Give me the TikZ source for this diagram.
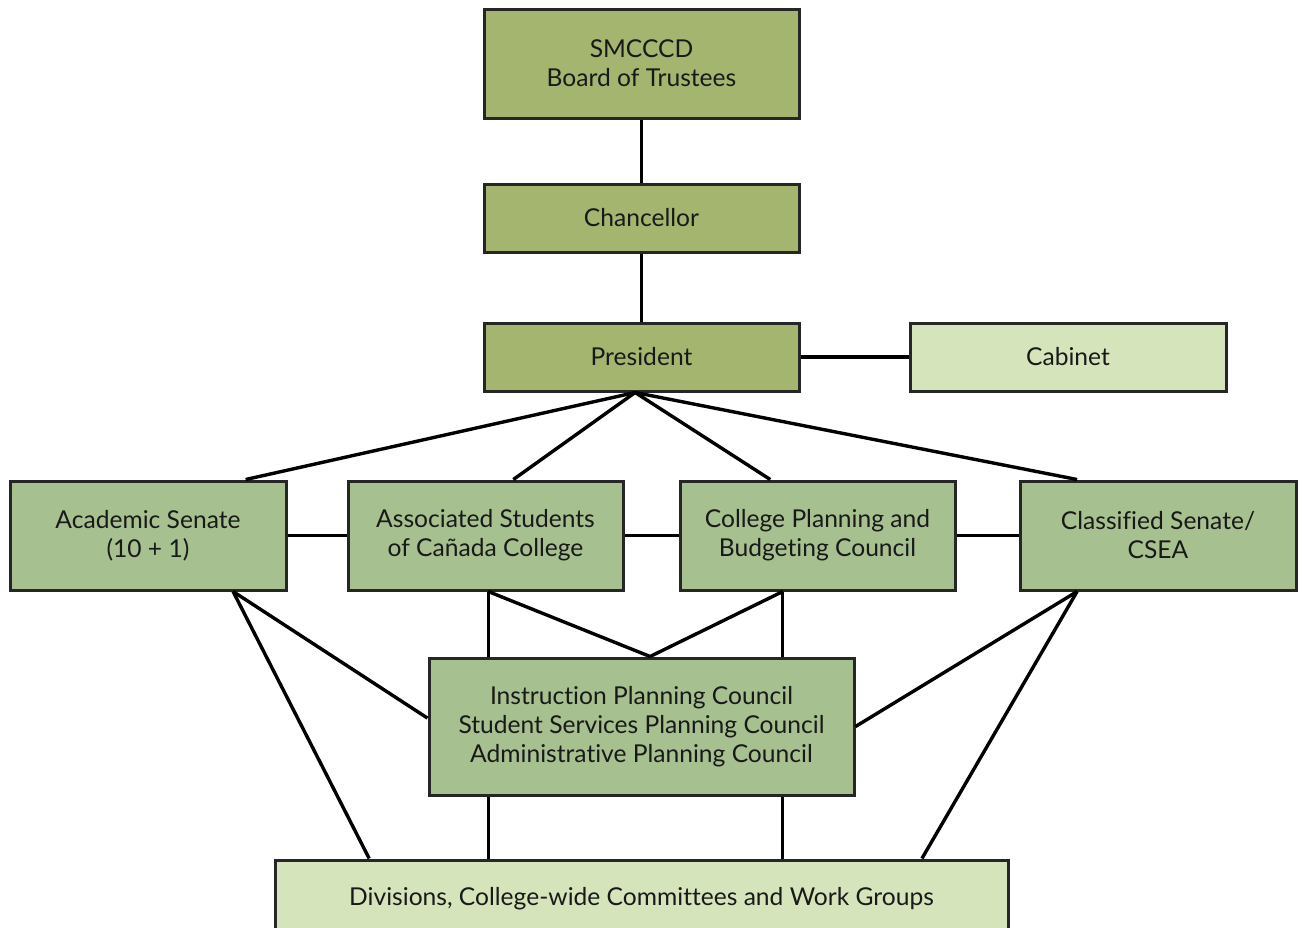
\documentclass[tikz,border=0pt]{standalone}
\usepackage{fontspec}
\setmainfont[Ligatures=NoCommon]{Lato}
\usetikzlibrary{calc}
\definecolor{dkolive}{RGB}{163,181,110}
\definecolor{midgreen}{RGB}{166,192,143}
\definecolor{ltgreen}{RGB}{214,228,188}
\tikzset{
  box/.style={draw=black!85, line width=1.5pt, align=center, inner sep=0pt, font=\fontsize{12.3}{14.5}\selectfont, text=black!90},
  topbox/.style={box, fill=dkolive},
  rowbox/.style={box, fill=midgreen},
  lightbox/.style={box, fill=ltgreen},
  conn/.style={line width=1.7pt, black}
}
\begin{document}
\begin{tikzpicture}[x=0.5pt,y=-0.5pt]
\useasboundingbox (0,0) rectangle (1305,927);
\clip (0,0) rectangle (1305,927);
% nodes
\node[topbox, minimum width=157.5pt, minimum height=54.5pt] (board) at (641.5,63.5) {SMCCCD\\Board of Trustees};
\node[topbox, minimum width=157.5pt, minimum height=34pt] (chan) at (641.5,218) {Chancellor};
\node[topbox, minimum width=157.5pt, minimum height=34pt] (pres) at (641.5,357) {President};
\node[lightbox, minimum width=158pt, minimum height=34pt] (cab) at (1068,357) {Cabinet};
\node[rowbox, minimum width=138pt, minimum height=54.5pt] (acad) at (148,535.5) {Academic Senate\\(10 + 1)};
\node[rowbox, minimum width=137.5pt, minimum height=54.5pt] (as) at (485.5,535.5) {Associated Students\\of Cañada College};
\node[rowbox, minimum width=137.5pt, minimum height=54.5pt] (cpbc) at (817.5,535.5) {College Planning and\\Budgeting Council};
\node[rowbox, minimum width=138pt, minimum height=54.5pt] (csen) at (1158,535.5) {Classified Senate/\\CSEA};
\node[rowbox, minimum width=212.5pt, minimum height=68.5pt] (mid) at (641.5,726.5) {Instruction Planning Council\\Student Services Planning Council\\Administrative Planning Council};
\node[lightbox, minimum width=366.5pt, minimum height=40pt, text height=8pt] (bot) at (641.5,900) {Divisions, College-wide Committees and Work Groups};
% coordinates on borders
\coordinate (presb) at ($(pres.south west)!0.48!(pres.south east)$);
\coordinate (acadt) at ($(acad.north west)!0.85!(acad.north east)$);
\coordinate (ast) at ($(as.north west)!0.6!(as.north east)$);
\coordinate (cpbct) at ($(cpbc.north west)!0.33!(cpbc.north east)$);
\coordinate (csent) at ($(csen.north west)!0.21!(csen.north east)$);
\coordinate (acadb) at ($(acad.south west)!0.805!(acad.south east)$);
\coordinate (asb) at ($(as.south west)!0.51!(as.south east)$);
\coordinate (cpbcb) at ($(cpbc.south west)!0.375!(cpbc.south east)$);
\coordinate (csenb) at ($(csen.south west)!0.21!(csen.south east)$);
\coordinate (midt) at ($(mid.north west)!0.52!(mid.north east)$);
\coordinate (midl) at ($(mid.north west)!0.44!(mid.south west)$);
\coordinate (midr) at ($(mid.north east)!0.5!(mid.south east)$);
\coordinate (botl) at ($(bot.north west)!0.13!(bot.north east)$);
\coordinate (botr) at ($(bot.north west)!0.881!(bot.north east)$);
% connectors
\draw[conn] (board.south) -- (chan.north);
\draw[conn] (chan.south) -- (pres.north);
\draw[conn] (pres.east) -- (cab.west);
\draw[conn] (presb) -- (acadt);
\draw[conn] (presb) -- (ast);
\draw[conn] (presb) -- (cpbct);
\draw[conn] (presb) -- (csent);
\draw[conn] (acad.east) -- (as.west);
\draw[conn] (as.east) -- (cpbc.west);
\draw[conn] (cpbc.east) -- (csen.west);
\draw[conn] (acadb) -- (botl);
\draw[conn] (acadb) -- (midl);
\draw[conn] (asb) -- (asb |- mid.north);
\draw[conn] (asb) -- (midt);
\draw[conn] (cpbcb) -- (cpbcb |- mid.north);
\draw[conn] (cpbcb) -- (midt);
\draw[conn] (csenb) -- (midr);
\draw[conn] (csenb) -- (botr);
\draw[conn] (asb |- mid.south) -- (asb |- bot.north);
\draw[conn] (cpbcb |- mid.south) -- (cpbcb |- bot.north);
\end{tikzpicture}
\end{document}
